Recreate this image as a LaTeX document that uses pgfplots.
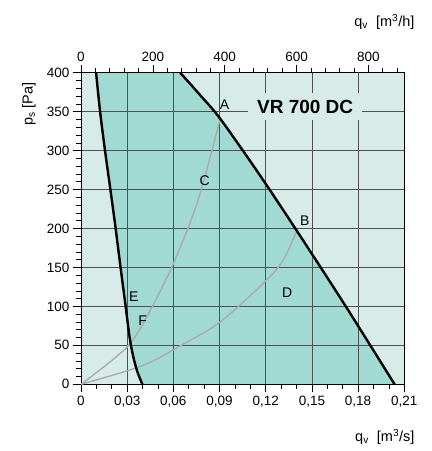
\documentclass[border=0pt]{standalone}
\usepackage{fontspec}
\setmainfont{Liberation Sans}
\usepackage{pgfplots}
\pgfplotsset{compat=1.18}
\definecolor{bglight}{HTML}{D7ECE9}
\definecolor{opdark}{HTML}{A1D9D3}
\definecolor{gridc}{HTML}{505050}
\definecolor{sysc}{HTML}{ABABAB}
\begin{document}
\begin{tikzpicture}
\begin{axis}[
  set layers,
  at={(81pt,66.7pt)}, anchor=south west,
  scale only axis, width=323.3pt, height=311.6pt,
  xmin=0, xmax=0.21, ymin=0, ymax=400,
  axis line style={black, line width=0.8pt},
  tick pos=left, tick align=outside,
  major tick length=8pt, minor tick length=4.5pt,
  every tick/.style={black, line width=0.6pt},
  xtick={0,0.03,0.06,0.09,0.12,0.15,0.18,0.21},
  xticklabels={0,{0,03},{0,06},{0,09},{0,12},{0,15},{0,18},{0,21}},
  minor xtick={0.01,0.02,0.04,0.05,0.07,0.08,0.10,0.11,0.13,0.14,0.16,0.17,0.19,0.20},
  ytick={0,50,100,150,200,250,300,350,400},
  minor ytick={10,20,30,40,60,70,80,90,110,120,130,140,160,170,180,190,210,220,230,240,260,270,280,290,310,320,330,340,360,370,380,390},
  grid=major, major grid style={gridc, line width=0.7pt},
  tick label style={font=\fontsize{13.5}{14}\selectfont},
  /pgf/number format/assume math mode=true,
]
% light background
\addplot[fill=bglight, draw=none, on layer=axis background] coordinates {(0,0) (0.21,0) (0.21,400) (0,400)} -- cycle;
% operating area
\addplot[fill=opdark, draw=none, on layer=axis background] coordinates {
 (0.0399,0) (0.0368,15) (0.0340,35) (0.0316,60) (0.0290,100) (0.0257,150) (0.0225,200) (0.0191,250) (0.0156,300) (0.0124,350) (0.0098,400)
 (0.0644,400) (0.0775,371) (0.0904,341) (0.1153,271) (0.1402,197) (0.1720,100) (0.2037,0)} -- cycle;
% system curves
\addplot[sysc, line width=1.4pt, smooth] coordinates {(0,0) (0.03,48) (0.045,95) (0.06,155) (0.0760,236) (0.0904,341)};
\addplot[sysc, line width=1.4pt, smooth] coordinates {(0,0) (0.04,24) (0.065,50) (0.0904,80) (0.1207,134) (0.1315,160) (0.1402,197)};
% fan curves
\addplot[black, line width=2.4pt, smooth] coordinates {(0.0399,0) (0.0368,15) (0.0340,35) (0.0316,60) (0.0290,100) (0.0257,150) (0.0225,200) (0.0191,250) (0.0156,300) (0.0124,350) (0.0098,400)};
\addplot[black, line width=2.4pt, smooth] coordinates {(0.0644,400) (0.0775,371) (0.0904,341) (0.1153,271) (0.1402,197) (0.1720,100) (0.2037,0)};
% labels
\node[font=\fontsize{14}{14}\selectfont] at (axis cs:0.0932,358.5) {A};
\node[font=\fontsize{14}{14}\selectfont] at (axis cs:0.1454,210.6) {B};
\node[font=\fontsize{14}{14}\selectfont] at (axis cs:0.0804,262) {C};
\node[font=\fontsize{14}{14}\selectfont] at (axis cs:0.1339,117) {D};
\node[font=\fontsize{14}{14}\selectfont] at (axis cs:0.0343,112.8) {E};
\node[font=\fontsize{14}{14}\selectfont] at (axis cs:0.0400,82) {F};
\node[fill=bglight, inner sep=0pt, minimum width=114pt, minimum height=27pt, font=\fontsize{19}{19}\selectfont\bfseries] at (axis cs:0.1456,356.5) {VR 700 DC};
\end{axis}
\begin{axis}[
  at={(81pt,66.7pt)}, anchor=south west,
  scale only axis, width=323.3pt, height=311.6pt,
  xmin=0, xmax=900, ymin=0, ymax=400,
  axis x line*=top, axis y line=none,
  axis line style={black, line width=0.8pt},
  tick align=outside,
  major tick length=8pt, minor tick length=4.5pt,
  every tick/.style={black, line width=0.6pt},
  xtick={0,200,400,600,800},
  minor xtick={40,80,120,160,240,280,320,360,440,480,520,560,640,680,720,760,840,880},
  tick label style={font=\fontsize{13.5}{14}\selectfont},
  /pgf/number format/assume math mode=true,
]
\addplot[draw=none] coordinates {(0,0)};
\end{axis}
\node[anchor=east, font=\fontsize{14.5}{15}\selectfont] at (418pt,14pt) {q\textsubscript{v}\ \ [m\textsuperscript{3}/s]};
\node[anchor=east, font=\fontsize{14.5}{15}\selectfont] at (418pt,429pt) {q\textsubscript{v}\ \ [m\textsuperscript{3}/h]};
\node[rotate=90, font=\fontsize{14.5}{15}\selectfont] at (29pt,347pt) {p\textsubscript{s} [Pa]};
\path (0,0) rectangle (432pt,451pt);
\end{tikzpicture}
\end{document}
